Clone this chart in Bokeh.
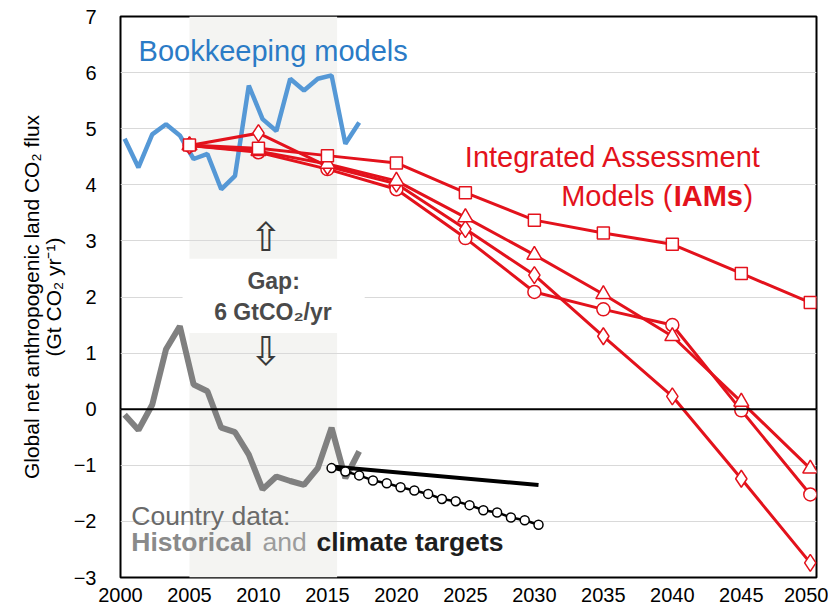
from bokeh.plotting import figure
from bokeh.models import Range1d, Label, Span, FixedTicker, BoxAnnotation
from bokeh.embed import file_html
from bokeh.resources import INLINE

FONT = "Liberation Sans"
RED = "#e3121c"
BLUE_LINE = "#5598d6"
BLUE_TEXT = "#2b7bc6"
GRAY = "#808080"

# ---------------- data ----------------
hist_years = list(range(2000, 2018))
bookkeeping = [4.82, 4.31, 4.90, 5.08, 4.88, 4.46, 4.55, 3.92, 4.16, 5.77,
               5.17, 4.96, 5.89, 5.68, 5.89, 5.95, 4.73, 5.11]
country = [-0.10, -0.37, 0.08, 1.07, 1.48, 0.44, 0.32, -0.33, -0.41, -0.81,
           -1.43, -1.20, -1.28, -1.35, -1.05, -0.33, -1.23, -0.75]

target_years = [2015, 2030]
target_solid = [-1.02, -1.35]
target_dot_years = list(range(2015, 2031))
target_dot = [-1.05, -1.11, -1.18, -1.27, -1.32, -1.39, -1.45, -1.51,
              -1.60, -1.64, -1.71, -1.80, -1.84, -1.93, -1.98, -2.06]

iam_years = [2005, 2010, 2015, 2020, 2025, 2030, 2035, 2040, 2045, 2050]
iam_square = [4.71, 4.65, 4.52, 4.39, 3.86, 3.37, 3.14, 2.94, 2.42, 1.90]
iam_triangle = [4.70, 4.60, 4.37, 4.07, 3.42, 2.75, 2.05, 1.30, 0.13, -1.06]
iam_circle = [4.70, 4.58, 4.28, 3.92, 3.05, 2.09, 1.78, 1.50, -0.02, -1.52]
iam_diamond = [4.70, 4.92, 4.33, 4.02, 3.21, 2.39, 1.30, 0.23, -1.24, -2.74]

x_ticks = list(range(2000, 2051, 5))
y_ticks = list(range(-3, 8))

# annual series are drawn slightly after the year mark, as in the original
HIST_OFF = 0.3
hist_x = [y + HIST_OFF for y in hist_years]
target_x = [y + HIST_OFF for y in target_years]
target_dot_x = [y + HIST_OFF for y in target_dot_years]

p = figure(width=828, height=604,
           x_range=Range1d(2000, 2050.45), y_range=Range1d(-3, 7),
           output_backend="svg", toolbar_location=None,
           min_border_left=120, min_border_top=16, min_border_right=12,
           min_border_bottom=27)

p.outline_line_color = "black"
p.outline_line_width = 2
p.background_fill_color = "white"

p.xgrid.visible = False
p.ygrid.ticker = FixedTicker(ticks=y_ticks)
p.ygrid.grid_line_color = "#d9d9d9"
p.ygrid.grid_line_width = 1

for ax in (p.xaxis[0], p.yaxis[0]):
    ax.axis_line_color = None
    ax.major_tick_line_color = None
    ax.minor_tick_line_color = None
    ax.major_label_text_font = FONT
    ax.major_label_text_font_size = "20px"
    ax.major_label_text_color = "black"

p.xaxis.ticker = FixedTicker(ticks=x_ticks)
p.xaxis.major_label_standoff = 4
p.yaxis.ticker = FixedTicker(ticks=y_ticks)
p.yaxis.major_label_standoff = 18

p.yaxis.axis_label = "Global net anthropogenic land CO\u2082 flux\n(Gt CO\u2082 yr\u207b\u00b9)"
p.yaxis.axis_label_text_font = FONT
p.yaxis.axis_label_text_font_size = "21px"
p.yaxis.axis_label_text_font_style = "normal"
p.yaxis.axis_label_text_color = "black"
p.yaxis.axis_label_text_line_height = 0.95
p.yaxis.axis_label_standoff = 6

# shaded period and the white box behind the gap text
shade = BoxAnnotation(left=2005, right=2015.7, bottom=-3, top=7,
                      fill_color="#f4f4f2", fill_alpha=1, line_color=None, level="image")
p.add_layout(shade)
gapbox = BoxAnnotation(left=2004.5, right=2017.7, bottom=1.36, top=2.68,
                       fill_color="white", fill_alpha=1, line_color=None, level="underlay")
p.add_layout(gapbox)

p.add_layout(Span(location=0, dimension="width", line_color="black", line_width=2))

# historical series
p.line(hist_x, bookkeeping, line_color=BLUE_LINE, line_width=4.5)
p.line(hist_x, country, line_color=GRAY, line_width=6)

# country climate targets
p.line(target_x, target_solid, line_color="black", line_width=4)
p.line(target_dot_x, target_dot, line_color="black", line_width=2.5)
p.scatter(target_dot_x, target_dot, marker="circle", size=9, fill_color="white",
          line_color="black", line_width=1.5)

# IAMs
for vals in (iam_diamond, iam_circle, iam_triangle, iam_square):
    p.line(iam_years, vals, line_color=RED, line_width=3)
p.scatter(iam_years, iam_circle, marker="circle", size=13, fill_color="white",
          line_color=RED, line_width=1.5)
p.scatter(iam_years, iam_diamond, marker="diamond", size=17, fill_color="white",
          line_color=RED, line_width=1.5)
p.scatter(iam_years, iam_triangle, marker="triangle", size=15, fill_color="white",
          line_color=RED, line_width=1.5)
p.scatter(iam_years, iam_square, marker="square", size=12, fill_color="white",
          line_color=RED, line_width=1.5)

# text annotations
def lab(x, y, text, size, color, style="normal", align="left", font=FONT):
    p.add_layout(Label(x=x, y=y, text=text, text_font=font, text_font_size=size,
                       text_color=color, text_font_style=style, text_align=align,
                       text_baseline="middle"))

lab(2001.31, 6.39, "Bookkeeping models", "29px", BLUE_TEXT)
lab(2024.96, 4.50, "Integrated Assessment", "29px", RED)
lab(2040.0, 3.80, "Models (", "29px", RED, align="right")
lab(2040.1, 3.80, "IAMs", "29px", RED, style="bold")
lab(2045.15, 3.80, ")", "29px", RED)

lab(2011.1, 2.29, "Gap:", "23px", "#4a4a4a", style="bold", align="center")
lab(2011.05, 1.73, "6 GtCO\u2082/yr", "23px", "#4a4a4a", style="bold", align="center")
lab(2010.55, 3.07, "\u21e7", "40px", "#3a3a3a", align="center", font="DejaVu Sans")
lab(2010.55, 1.04, "\u21e9", "40px", "#3a3a3a", align="center", font="DejaVu Sans")

lab(2000.78, -1.91, "Country data:", "26.5px", "#6a6a6a")
lab(2000.78, -2.37, "Historical", "26.5px", "#8a8a8a", style="bold")
lab(2010.3, -2.37, "and", "26.5px", "#9c9c9c")
lab(2014.2, -2.37, "climate targets", "26.5px", "#1e1e1e", style="bold")

open("out.html", "w").write(file_html(p, INLINE))
